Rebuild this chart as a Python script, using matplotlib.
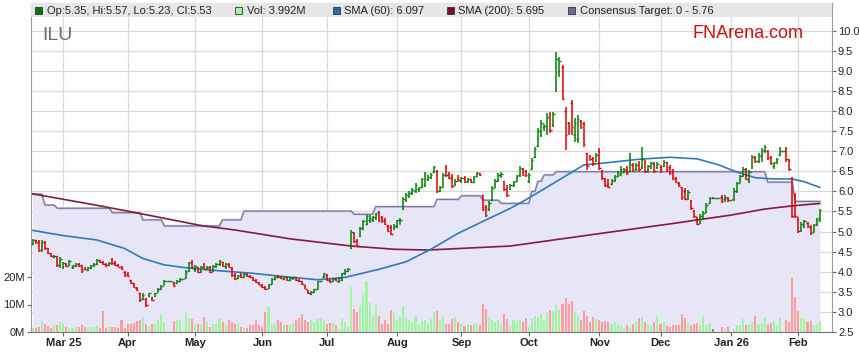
import numpy as np
import pandas as pd
import matplotlib
matplotlib.use("Agg")
import matplotlib.pyplot as plt
from matplotlib.patches import Rectangle

# ---- data ----
start_date = "2025-02-17"   # first weekday shown, one bar per weekday

opens = [
    4.70, 4.78, 4.75, 4.55, 4.74, 4.58, 4.45, 4.37, 4.38, 4.18,
    4.12, 4.20, 4.16, 4.12, 4.15, 4.20, 4.16, 4.08, 4.05, 4.10,
    4.16, 4.19, 4.28, 4.24, 4.19, 4.16, 4.31, 4.22, 4.16, 4.12,
    4.00, 3.94, 3.79, 3.71, 3.60, 3.46, 3.32, 3.32, 3.40, 3.37,
    3.40, 3.50, 3.56, 3.68, 3.77, 3.77, 3.74, 3.72, 3.76, 3.82,
    3.85, 4.02, 4.24, 4.06, 4.10, 4.02, 4.12, 4.08, 4.13, 4.02,
    4.15, 4.20, 4.24, 4.15, 4.20, 4.10, 3.92, 3.84, 3.92, 3.88,
    3.94, 3.89, 3.86, 3.79, 3.73, 3.67, 3.62, 3.59, 3.70, 3.82,
    3.88, 3.88, 3.83, 3.86, 3.80, 3.84, 3.86, 3.80, 3.76, 3.66,
    3.52, 3.45, 3.50, 3.58, 3.76, 3.86, 3.92, 3.80, 3.76, 3.82,
    3.78, 3.80, 3.94, 4.02, 4.60, 4.96, 4.80, 4.88, 5.06, 5.20,
    5.30, 5.28, 5.36, 5.48, 5.36, 5.30, 5.14, 5.12, 5.08, 5.12,
    5.20, 5.56, 5.78, 5.88, 5.95, 6.00, 6.05, 6.10, 6.15, 6.30,
    6.36, 6.48, 6.50, 6.02, 6.12, 6.62, 6.45, 6.36, 6.18, 6.32,
    6.26, 6.34, 6.25, 6.30, 6.24, 6.38, 6.45, 5.90, 5.62, 5.55,
    5.78, 6.10, 6.28, 6.38, 6.25, 6.10, 6.05, 6.16, 6.26, 6.40,
    6.55, 6.50, 6.25, 6.55, 6.85, 7.12, 7.40, 7.60, 7.55, 7.90,
    7.65, 8.55, 9.00, 9.10, 8.00, 7.70, 8.20, 7.40, 7.30, 7.75,
    7.70, 6.95, 6.88, 6.84, 6.75, 7.00, 6.50, 6.30, 6.22, 6.18,
    6.28, 6.38, 6.42, 6.48, 6.55, 6.50, 6.66, 6.55, 6.70, 6.60,
    6.72, 6.55, 6.58, 6.68, 6.60, 6.60, 6.62, 6.72, 6.60, 6.50,
    6.34, 6.22, 6.10, 6.02, 5.84, 5.76, 5.52, 5.36, 5.22, 5.32,
    5.48, 5.72, 5.84, 5.84, 5.84, 5.86, 5.80, 5.84, 5.78, 5.80,
    6.00, 6.22, 6.40, 6.55, 6.26, 6.60, 6.82, 6.75, 6.88, 7.02,
    7.00, 6.86, 6.62, 6.72, 6.90, 7.00, 7.08, 6.78, 6.33, 5.90,
    5.30, 5.05, 5.15, 5.22, 5.12, 5.00, 5.18, 5.35,
]
highs = [
    4.81, 4.80, 4.79, 4.79, 4.77, 4.60, 4.47, 4.42, 4.40, 4.36,
    4.24, 4.22, 4.29, 4.18, 4.22, 4.22, 4.18, 4.12, 4.13, 4.17,
    4.22, 4.31, 4.30, 4.26, 4.21, 4.25, 4.34, 4.26, 4.20, 4.14,
    4.01, 3.99, 3.80, 3.72, 3.62, 3.47, 3.46, 3.34, 3.48, 3.38,
    3.48, 3.59, 3.67, 3.79, 3.77, 3.77, 3.75, 3.79, 3.84, 3.82,
    4.04, 4.25, 4.29, 4.17, 4.13, 4.14, 4.21, 4.15, 4.14, 4.17,
    4.22, 4.29, 4.25, 4.22, 4.22, 4.12, 3.97, 3.92, 3.96, 3.98,
    3.96, 3.92, 3.88, 3.82, 3.75, 3.69, 3.64, 3.70, 3.84, 3.90,
    3.92, 3.89, 3.88, 3.87, 3.86, 3.88, 3.87, 3.82, 3.78, 3.68,
    3.54, 3.52, 3.58, 3.78, 3.78, 3.98, 3.94, 3.82, 3.84, 3.84,
    3.86, 3.98, 4.06, 4.10, 5.04, 4.98, 4.82, 5.11, 5.29, 5.41,
    5.42, 5.40, 5.46, 5.50, 5.40, 5.34, 5.16, 5.16, 5.18, 5.30,
    5.33, 5.87, 5.95, 6.00, 6.08, 6.20, 6.12, 6.33, 6.49, 6.40,
    6.46, 6.63, 6.53, 6.14, 6.45, 6.66, 6.48, 6.43, 6.30, 6.40,
    6.36, 6.38, 6.34, 6.32, 6.38, 6.49, 6.47, 5.91, 5.66, 5.75,
    6.13, 6.30, 6.45, 6.48, 6.27, 6.16, 6.18, 6.26, 6.41, 6.62,
    6.58, 6.54, 6.45, 6.82, 7.11, 7.57, 7.78, 7.68, 7.94, 7.98,
    7.98, 9.48, 9.35, 9.15, 8.11, 7.72, 8.27, 7.82, 7.90, 7.78,
    7.73, 6.95, 6.90, 6.86, 6.95, 7.07, 6.53, 6.33, 6.30, 6.30,
    6.40, 6.50, 6.62, 6.58, 6.62, 6.95, 6.70, 6.70, 6.75, 7.11,
    6.77, 6.66, 6.74, 6.72, 6.72, 6.66, 6.78, 6.74, 6.66, 6.57,
    6.36, 6.24, 6.12, 6.08, 6.04, 5.79, 5.54, 5.37, 5.44, 5.50,
    5.70, 5.86, 5.86, 5.84, 5.84, 5.92, 5.90, 5.86, 5.78, 6.08,
    6.24, 6.41, 6.60, 6.58, 6.53, 6.91, 6.88, 6.95, 7.07, 7.15,
    7.02, 6.88, 6.74, 6.84, 7.10, 7.00, 7.11, 6.80, 6.35, 5.95,
    5.37, 5.25, 5.30, 5.24, 5.16, 5.20, 5.35, 5.57,
]
lows = [
    4.67, 4.70, 4.50, 4.48, 4.55, 4.44, 4.36, 4.34, 4.13, 4.10,
    4.08, 4.12, 4.14, 4.08, 4.13, 4.12, 3.97, 4.04, 4.02, 4.08,
    4.13, 4.17, 4.21, 4.17, 4.13, 4.15, 4.17, 4.14, 4.11, 4.04,
    3.88, 3.88, 3.70, 3.60, 3.52, 3.25, 3.30, 3.13, 3.38, 3.28,
    3.38, 3.49, 3.55, 3.66, 3.77, 3.77, 3.61, 3.71, 3.75, 3.82,
    3.84, 4.00, 4.10, 4.00, 3.96, 3.98, 4.06, 4.04, 3.96, 4.00,
    4.10, 4.15, 4.12, 4.08, 4.10, 3.88, 3.80, 3.82, 3.84, 3.86,
    3.87, 3.84, 3.78, 3.72, 3.66, 3.60, 3.55, 3.58, 3.69, 3.80,
    3.84, 3.81, 3.80, 3.78, 3.78, 3.80, 3.78, 3.74, 3.66, 3.56,
    3.44, 3.43, 3.48, 3.56, 3.74, 3.84, 3.78, 3.72, 3.74, 3.76,
    3.72, 3.78, 3.92, 4.00, 4.56, 4.72, 4.61, 4.86, 5.04, 5.16,
    5.22, 5.24, 5.30, 5.25, 5.22, 5.16, 4.99, 4.91, 5.04, 5.08,
    5.18, 5.54, 5.74, 5.84, 5.92, 5.95, 5.98, 6.08, 6.12, 6.26,
    6.30, 6.45, 5.95, 5.98, 6.10, 6.37, 6.30, 6.08, 6.14, 6.24,
    6.22, 6.20, 6.22, 6.20, 6.22, 6.36, 6.38, 5.50, 5.37, 5.52,
    5.76, 6.08, 6.24, 6.34, 6.00, 5.87, 6.03, 6.10, 6.24, 6.37,
    6.38, 6.35, 6.20, 6.55, 6.82, 7.11, 7.36, 7.50, 7.40, 7.45,
    7.61, 8.48, 8.86, 8.27, 7.03, 7.40, 7.40, 7.24, 7.20, 7.55,
    7.11, 6.53, 6.76, 6.64, 6.74, 6.53, 6.28, 6.12, 6.08, 6.15,
    6.24, 6.36, 6.40, 6.45, 6.40, 6.49, 6.48, 6.50, 6.49, 6.57,
    6.45, 6.45, 6.55, 6.45, 6.55, 6.45, 6.60, 6.49, 6.40, 6.28,
    6.20, 6.12, 5.79, 5.79, 5.79, 5.54, 5.33, 5.16, 5.20, 5.29,
    5.45, 5.70, 5.82, 5.84, 5.84, 5.72, 5.74, 5.74, 5.78, 5.76,
    5.96, 6.20, 6.36, 6.28, 6.22, 6.57, 6.70, 6.70, 6.74, 6.95,
    6.78, 6.66, 6.55, 6.68, 6.88, 7.00, 6.74, 6.50, 5.33, 5.33,
    4.96, 5.00, 5.10, 5.10, 4.91, 4.98, 5.14, 5.23,
]
closes = [
    4.78, 4.73, 4.55, 4.75, 4.58, 4.47, 4.38, 4.40, 4.18, 4.32,
    4.21, 4.14, 4.26, 4.16, 4.20, 4.15, 4.02, 4.06, 4.11, 4.15,
    4.20, 4.29, 4.24, 4.20, 4.16, 4.23, 4.21, 4.16, 4.13, 4.06,
    3.91, 3.90, 3.73, 3.63, 3.55, 3.30, 3.42, 3.18, 3.46, 3.30,
    3.46, 3.57, 3.65, 3.77, 3.77, 3.77, 3.64, 3.77, 3.82, 3.82,
    3.98, 4.22, 4.13, 4.15, 4.00, 4.12, 4.08, 4.13, 3.99, 4.15,
    4.19, 4.27, 4.15, 4.20, 4.12, 3.92, 3.83, 3.90, 3.86, 3.95,
    3.89, 3.86, 3.80, 3.74, 3.68, 3.62, 3.57, 3.68, 3.82, 3.88,
    3.86, 3.84, 3.86, 3.80, 3.84, 3.86, 3.80, 3.76, 3.69, 3.58,
    3.46, 3.50, 3.56, 3.76, 3.77, 3.96, 3.80, 3.75, 3.82, 3.78,
    3.84, 3.96, 4.02, 4.06, 4.98, 4.76, 4.65, 5.08, 5.26, 5.38,
    5.34, 5.37, 5.44, 5.30, 5.26, 5.20, 5.02, 4.95, 5.15, 5.28,
    5.30, 5.82, 5.90, 5.96, 6.04, 6.16, 6.08, 6.30, 6.44, 6.36,
    6.42, 6.60, 6.00, 6.10, 6.40, 6.42, 6.34, 6.14, 6.26, 6.28,
    6.33, 6.24, 6.31, 6.23, 6.35, 6.46, 6.40, 5.56, 5.42, 5.70,
    6.08, 6.26, 6.40, 6.44, 6.05, 5.92, 6.15, 6.24, 6.38, 6.58,
    6.42, 6.40, 6.42, 6.78, 7.06, 7.50, 7.70, 7.62, 7.85, 7.52,
    7.92, 9.30, 9.25, 8.30, 7.40, 7.50, 7.60, 7.70, 7.80, 7.60,
    7.18, 6.62, 6.80, 6.70, 6.90, 6.58, 6.33, 6.16, 6.12, 6.26,
    6.36, 6.46, 6.56, 6.54, 6.45, 6.68, 6.52, 6.66, 6.56, 6.80,
    6.50, 6.62, 6.70, 6.52, 6.68, 6.55, 6.74, 6.55, 6.45, 6.32,
    6.24, 6.15, 5.85, 5.82, 5.98, 5.58, 5.38, 5.20, 5.40, 5.46,
    5.66, 5.84, 5.84, 5.84, 5.84, 5.76, 5.86, 5.78, 5.78, 6.02,
    6.20, 6.38, 6.55, 6.32, 6.48, 6.85, 6.76, 6.90, 7.00, 7.10,
    6.84, 6.70, 6.70, 6.80, 7.00, 7.00, 6.80, 6.55, 5.40, 5.38,
    5.02, 5.20, 5.26, 5.14, 4.96, 5.16, 5.30, 5.53,
]
volumes = [  # millions of shares
    1.6, 1.4, 2.0, 3.9, 2.8, 2.2, 1.3, 2.5, 2.4, 3.8,
    2.8, 1.7, 1.5, 1.6, 1.7, 1.8, 2.6, 1.8, 1.6, 1.8,
    1.9, 2.1, 1.6, 7.8, 1.5, 2.0, 2.0, 2.0, 1.6, 4.3,
    1.5, 2.8, 2.8, 3.3, 4.1, 4.4, 5.3, 2.8, 2.1, 3.0,
    3.1, 4.2, 6.3, 3.6, 0.0, 0.0, 3.9, 4.5, 4.5, 0.0,
    7.4, 5.2, 4.8, 2.4, 3.0, 2.4, 5.6, 3.6, 1.8, 3.0,
    3.0, 4.8, 3.6, 2.4, 4.4, 3.6, 2.8, 2.8, 2.0, 1.5,
    1.6, 2.4, 2.4, 4.2, 2.4, 2.0, 7.2, 9.2, 2.4, 3.0,
    4.2, 3.6, 2.4, 2.4, 2.4, 2.8, 4.2, 5.2, 6.6, 4.4,
    3.6, 4.2, 3.6, 4.8, 5.2, 4.2, 3.0, 3.4, 3.4, 2.4,
    1.2, 4.8, 3.6, 1.8, 16.5, 8.4, 7.2, 9.6, 13.3, 18.7,
    10.5, 6.0, 10.0, 6.0, 3.0, 4.5, 3.0, 8.0, 7.2, 4.2,
    5.4, 9.3, 5.4, 4.5, 3.6, 6.0, 3.0, 4.0, 4.2, 3.0,
    4.8, 7.2, 7.8, 4.2, 5.4, 3.0, 2.8, 4.8, 5.4, 3.6,
    3.0, 2.1, 3.0, 2.4, 2.8, 3.0, 2.4, 10.3, 8.4, 5.4,
    4.2, 3.6, 4.2, 3.0, 6.4, 4.8, 1.8, 4.5, 4.0, 4.2,
    3.6, 5.2, 1.8, 4.8, 6.0, 5.6, 6.4, 4.0, 6.8, 8.1,
    7.6, 10.0, 8.1, 10.2, 12.4, 10.2, 11.2, 7.2, 6.0, 4.2,
    7.6, 6.0, 3.6, 5.6, 4.8, 4.2, 3.6, 4.0, 3.6, 3.0,
    3.6, 2.4, 2.1, 1.6, 2.4, 1.8, 2.8, 4.0, 5.2, 5.4,
    3.6, 3.0, 2.4, 3.6, 6.0, 3.0, 3.6, 2.1, 1.8, 2.4,
    2.4, 2.4, 6.6, 5.1, 3.4, 2.6, 3.0, 3.4, 2.6, 6.0,
    2.4, 3.0, 1.2, 0.0, 0.0, 1.8, 1.0, 1.8, 0.0, 1.0,
    2.4, 2.4, 4.6, 2.6, 3.0, 3.6, 6.0, 3.0, 3.4, 5.1,
    3.0, 3.4, 3.9, 2.6, 5.4, 0.0, 4.2, 3.6, 19.5, 12.6,
    7.5, 5.1, 5.1, 3.6, 4.1, 2.4, 3.0, 3.992,
]

# moving averages, sampled along the drawn curves (bar index, value)
sma60_idx = [0, 10, 21, 30, 36, 43, 50, 60, 72, 82, 93, 102, 113, 122, 130,
             139, 148, 156, 161, 170, 180, 187, 198, 208, 217, 224, 230, 236,
             242, 248, 252, 257]
sma60_val = [5.03, 4.90, 4.79, 4.58, 4.33, 4.17, 4.10, 4.03, 3.96, 3.88, 3.80,
             3.86, 4.06, 4.25, 4.56, 4.96, 5.29, 5.58, 5.79, 6.20, 6.66, 6.71,
             6.80, 6.85, 6.81, 6.66, 6.48, 6.34, 6.31, 6.31, 6.24, 6.10]
sma200_idx = [0, 11, 22, 35, 55, 66, 84, 104, 118, 129, 145, 156, 170, 187,
              208, 217, 228, 239, 248, 257]
sma200_val = [5.94, 5.79, 5.64, 5.45, 5.15, 5.04, 4.82, 4.64, 4.56, 4.54,
              4.60, 4.64, 4.79, 4.97, 5.19, 5.29, 5.41, 5.56, 5.64, 5.70]

# consensus target: bar index where each level starts
target_start = [0, 4, 8, 26, 36, 43, 62, 69, 105, 112, 132, 140, 147, 153,
                163, 165, 167, 171, 240, 249]
target_val = [5.93, 5.66, 5.58, 5.47, 5.29, 5.14, 5.29, 5.51, 5.43, 5.62,
              5.80, 5.89, 5.78, 5.70, 6.00, 6.25, 6.41, 6.49, 6.23, 5.75]

legend_labels = ["Op:5.35, Hi:5.57, Lo:5.23, Cl:5.53", "Vol: 3.992M",
                 "SMA (60): 6.097", "SMA (200): 5.695",
                 "Consensus Target: 0 - 5.76"]
legend_colors = ["#007a00", "#a0f5a0", "#1f6fb0", "#7a0f2a", "#6a6a9c"]

# ---- drawing ----
plt.rcParams['font.family'] = ['Liberation Sans', 'DejaVu Sans']

o = np.array(opens)
h = np.array(highs)
lo = np.array(lows)
c = np.array(closes)
v = np.array(volumes)
n = len(c)
x = np.arange(n)
dates = pd.bdate_range(start_date, periods=n)
target = np.repeat(target_val, np.diff(target_start + [n]))

W, H = 859, 363
fig = plt.figure(figsize=(W / 100, H / 100), dpi=100)
left, right, top, bottom = 30.7, 831.7, 3.0, 332.0
ax = fig.add_axes([left / W, 1 - bottom / H, (right - left) / W, (bottom - top) / H])
axv = ax.twinx()   # volume, scale on the left

px_per_unit = 40.17
ax.set_ylim(2.5, 2.5 + (bottom - top) / px_per_unit)
ax.set_xlim(-0.65, -0.65 + (right - left) / 3.0625)
axv.set_ylim(0, (bottom - top) / 2.75)

# month ticks
months = dates.to_period('M')
tick_pos = [i for i in range(1, n) if months[i] != months[i - 1]]
tick_lab = []
for i in tick_pos:
    d = dates[i]
    if not tick_lab or d.month == 1:
        tick_lab.append(d.strftime('%b %y'))
    else:
        tick_lab.append(d.strftime('%b'))
ax.set_xticks(tick_pos)
ax.set_xticklabels(tick_lab, fontweight='bold', fontsize=8, color='#222222')

price_ticks = np.arange(2.5, 10.01, 0.5)
ax.yaxis.tick_right()
ax.yaxis.set_label_position('right')
ax.set_yticks(price_ticks)
ax.set_yticklabels([f"{t:.1f}" for t in price_ticks], fontsize=8, color='#222222')
ax.set_axisbelow(True)
ax.grid(True, color='#d9d9d9', lw=0.9)
ax.tick_params(axis='both', length=3, width=0.8, color='#666666', pad=1.5)

axv.yaxis.tick_left()
axv.yaxis.set_label_position('left')
axv.set_yticks([0, 10, 20])
axv.set_yticklabels(['0M', '10M', '20M'], fontsize=8, color='#222222')
axv.tick_params(axis='y', length=3, width=0.8, color='#666666', pad=1.5)
for s in axv.spines.values():
    s.set_visible(False)

# consensus target area + line
ax.fill_between(x, target, 2.5, color='#e6e6f6', lw=0, zorder=1)
ax.plot(x, target, color='#cfcfe2', lw=1.7, zorder=1.5)
ax.plot(x, target, color='#7878a4', lw=0.9, zorder=1.6)

# moving averages
ax.plot(sma200_idx, sma200_val, color='#861a3e', lw=1.2, zorder=2)
ax.plot(sma60_idx, sma60_val, color='#2a7cbf', lw=1.2, zorder=2)

# OHLC bars
bar_col = np.where(c >= o, '#007f00', '#dd0000')
ax.vlines(x, lo, h, colors=bar_col, lw=1.1, zorder=3)
ax.hlines(o, x - 0.5, x, colors=bar_col, lw=1.0, zorder=3)
ax.hlines(c, x, x + 0.5, colors=bar_col, lw=1.0, zorder=3)

for s in ax.spines.values():
    s.set_color('#999999')
ax.spines['bottom'].set_color('#777777')

# volume bars
vol_col = np.where(c > o, '#a0f5a0', np.where(c < o, '#ff9c9c', '#8c8c8c'))
axv.bar(x, v, width=0.68, color=vol_col, lw=0, zorder=2)

# legend band across the top of the plot
band_h = 14 / (bottom - top)
axv.add_patch(Rectangle((0, 1 - band_h), 1, band_h, transform=axv.transAxes,
                        facecolor='#e6e6e6', edgecolor='none', zorder=10,
                        clip_on=False))
sq_x = [35, 235, 333, 447, 568]
txt_x = [47, 247, 344, 458, 580]
for sx, tx, lab, col in zip(sq_x, txt_x, legend_labels, legend_colors):
    fig.add_artist(Rectangle((sx / W, 1 - 14 / H), 7 / W, 7 / H,
                             transform=fig.transFigure, facecolor=col,
                             edgecolor='#333333', lw=0.6, zorder=11))
    fig.text(tx / W, 1 - 10.5 / H, lab, fontsize=8, color='#222222',
             va='center', ha='left', zorder=12)

fig.text(42 / W, 1 - 40 / H, 'ILU', fontsize=14, color='#6e6e6e', va='baseline')
fig.text(692 / W, 1 - 38.5 / H, 'FNArena.com', fontsize=13, color='#cc1111',
         va='baseline')

fig.savefig('out.png', dpi=100)
